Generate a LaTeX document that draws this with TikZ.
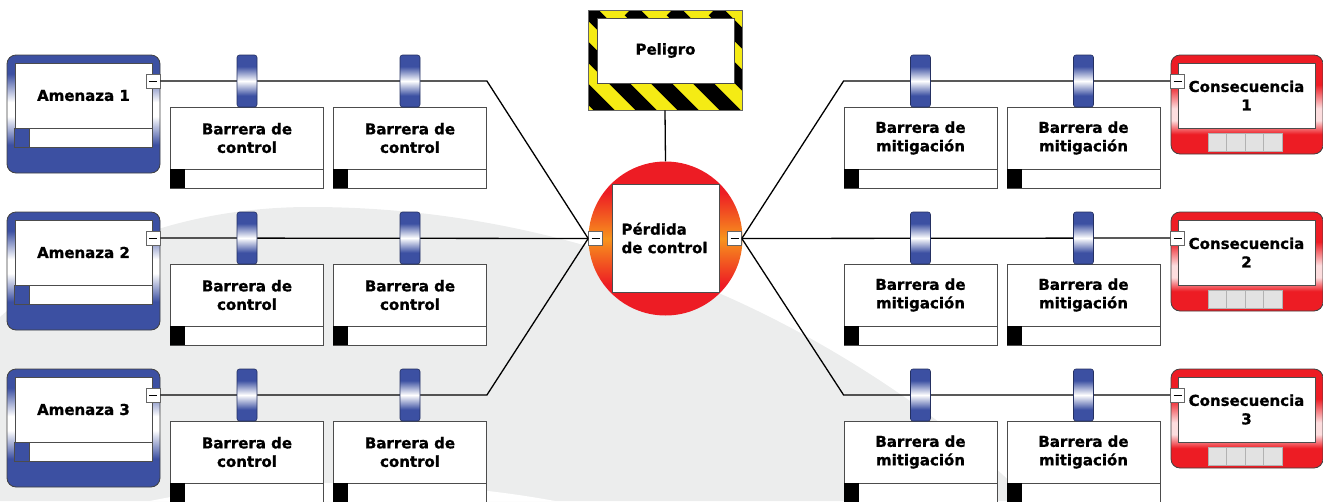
\documentclass[tikz,border=0pt]{standalone}
\usepackage{fontspec}
\setmainfont{DejaVu Sans}[BoldFeatures={FakeBold=1}]

\definecolor{thblue}{RGB}{60,80,162}
\definecolor{csred}{RGB}{237,28,36}
\definecolor{tporange}{RGB}{247,148,29}
\definecolor{hzyellow}{RGB}{245,235,20}
\definecolor{bggrey}{RGB}{236,237,237}
\definecolor{sqgrey}{RGB}{226,226,226}

\pgfdeclareverticalshading{threatshade}{100bp}{color(0bp)=(thblue); color(37bp)=(thblue); color(49bp)=(white); color(55bp)=(white); color(67bp)=(thblue); color(100bp)=(thblue)}
\pgfdeclareverticalshading{holdershade}{100bp}{color(0bp)=(thblue); color(36bp)=(thblue); color(50bp)=(white); color(64bp)=(thblue); color(100bp)=(thblue)}
\pgfdeclareverticalshading{conseqshade}{100bp}{color(0bp)=(csred); color(35bp)=(csred); color(42bp)=(white!85!csred); color(48bp)=(white!85!csred); color(60bp)=(csred); color(100bp)=(csred)}
\pgfdeclareverticalshading{lossshade}{100bp}{color(0bp)=(csred); color(35bp)=(csred); color(50bp)=(tporange); color(65bp)=(csred); color(100bp)=(csred)}

\tikzset{
	txt/.style={font=\fontsize{15}{18.5}\selectfont\bfseries, align=center, text=black},
	whitebox/.style={draw=black!70, fill=white, line width=0.8pt, inner sep=0pt},
	threatframe/.style={draw=black!75, line width=0.8pt, rounded corners=9pt, shading=threatshade,
		minimum width=153pt, minimum height=118pt, inner sep=0pt},
	conseqframe/.style={draw=black!75, line width=0.8pt, rounded corners=9pt, shading=conseqshade,
		minimum width=152pt, minimum height=99pt, inner sep=0pt},
	holder/.style={draw=thblue!60!black, line width=0.6pt, rounded corners=2.5pt, shading=holdershade,
		minimum width=20pt, minimum height=52pt, inner sep=0pt},
	minus/.style={draw=black!60, fill=white, line width=0.6pt, minimum size=14pt, inner sep=0pt,
		path picture={\draw[black, line width=0.9pt] ([xshift=-4pt]path picture bounding box.center)
			-- ([xshift=4pt]path picture bounding box.center);}},
	conn/.style={line width=1.3pt, black}
}

\begin{document}
\begin{tikzpicture}[x=1pt,y=-1pt]
	\useasboundingbox (0,0) rectangle (1323,501);

	% background
	\fill[bggrey] (0,501) -- (0,317) .. controls (80,245) and (190,207) .. (310,207)
		.. controls (470,207) and (610,245) .. (730,298)
		.. controls (850,352) and (960,430) .. (1030,501) -- cycle;
	\fill[white] (150,501) .. controls (260,478) and (420,476) .. (555,501) -- cycle;

	% hazard
	\node[draw=black!60, line width=0.6pt, fill=hzyellow, minimum width=154pt, minimum height=100pt,
		path picture={\foreach \k in {-4,...,4}
			\draw[black, line width=15pt] ([xshift=\k*42pt]path picture bounding box.north west) -- ++(120,120);}]
		(hazf) at (665,60) {};
	\node[whitebox, txt, minimum width=137pt, minimum height=65pt] (haz) at (665.5,50.5) {Peligro};

	% top event
	\node[circle, shading=lossshade, minimum size=154pt, inner sep=0pt] (loss) at (665.5,238.5) {};
	\node[whitebox, minimum width=107pt, minimum height=108pt] (lsq) at (665.5,238) {};
	\node[txt, align=left, anchor=west] (ltxt) at (618,238) {Pérdida\\de control};
	\node[minus] (lm) at (595.5,238.5) {};
	\node[minus] (rm) at (734.5,238.5) {};

	\foreach \i/\y in {1/0,2/157,3/314}{
		% threats
		\node[threatframe] (tf\i) at (83.5,114+\y) {};
		\node[whitebox, txt, minimum width=137pt, minimum height=65pt] (t\i) at (83.5,95.5+\y) {Amenaza \i};
		\node[whitebox, minimum width=137pt, minimum height=19pt, anchor=north] (ts\i) at (t\i.south) {};
		\filldraw[fill=thblue, draw=black!70, line width=0.8pt] (ts\i.north west) rectangle ++(15,19);
		\node[minus] (tm\i) at (153,81+\y) {};

		% consequences
		\node[conseqframe] (cf\i) at (1247,104.5+\y) {};
		\node[whitebox, txt, minimum width=137pt, minimum height=65pt] (c\i) at (1246.5,95.5+\y) {Consecuencia\\\i};
		\foreach \q in {0,...,3}
			\filldraw[fill=sqgrey, draw=black!30, line width=0.6pt] (1208+\q*18.5,133+\y) rectangle ++(18.5,18);
		\node[minus] (cm\i) at (1177.5,81+\y) {};

		% barriers
		\foreach \j/\x in {1/247,2/410}{
			\node[whitebox, txt, minimum width=153pt, minimum height=62pt] (b\i\j) at (\x,138+\y) {Barrera de\\control};
			\node[whitebox, minimum width=153pt, minimum height=19pt, anchor=north] (bs\i\j) at (b\i\j.south) {};
			\fill[black] (bs\i\j.north west) rectangle ++(15,19);
		}
		\foreach \j/\x in {1/920.5,2/1083.5}{
			\node[whitebox, txt, minimum width=153pt, minimum height=62pt] (m\i\j) at (\x,138+\y) {Barrera de\\mitigación};
			\node[whitebox, minimum width=153pt, minimum height=19pt, anchor=north] (ms\i\j) at (m\i\j.south) {};
			\fill[black] (ms\i\j.north west) rectangle ++(15,19);
		}
	}

	% connectors
	\draw[conn] (hazf.south) -- (loss.north);
	\draw[conn] (tm1.east) -- (b12.east |- tm1.east) -- (lm.west);
	\draw[conn] (tm2.east) -- (lm.west);
	\draw[conn] (tm3.east) -- (b32.east |- tm3.east) -- (lm.west);
	\draw[conn] (rm.east) -- (m11.west |- cm1.west) -- (cm1.west);
	\draw[conn] (rm.east) -- (cm2.west);
	\draw[conn] (rm.east) -- (m31.west |- cm3.west) -- (cm3.west);

	% barrier holders
	\foreach \i/\y in {1/0,2/157,3/314}
		\foreach \j/\x in {1/247,2/410,3/920.5,4/1083.5}
			\node[holder] (h\i\j) at (\x,81+\y) {};
\end{tikzpicture}
\end{document}
